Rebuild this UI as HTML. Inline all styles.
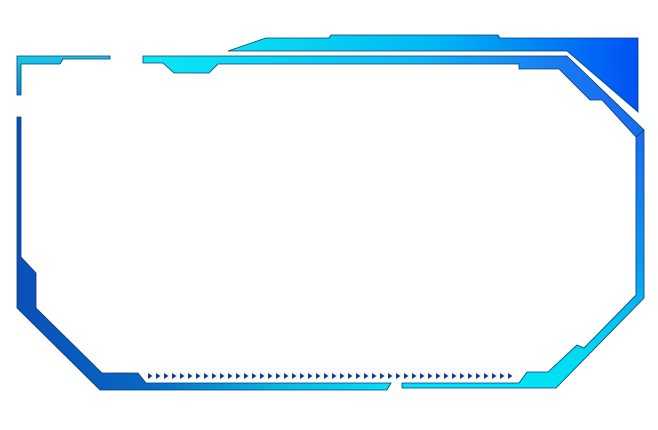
<!DOCTYPE html>
<html><head><meta charset="utf-8"><style>html,body{margin:0;padding:0;background:#fff;width:658px;height:430px;overflow:hidden}</style></head>
<body>
<svg width="658" height="430" viewBox="0 0 658 430" xmlns="http://www.w3.org/2000/svg">
<defs>
<linearGradient id="up" x1="228" y1="0" x2="640" y2="0" gradientUnits="userSpaceOnUse">
<stop offset="0" stop-color="#08e0f4"/><stop offset="0.5" stop-color="#00b8f4"/><stop offset="1" stop-color="#0050f4"/></linearGradient>
<linearGradient id="top" x1="143" y1="0" x2="640" y2="0" gradientUnits="userSpaceOnUse">
<stop offset="0" stop-color="#08e8f4"/><stop offset="0.55" stop-color="#10b8f4"/><stop offset="0.85" stop-color="#1878f0"/><stop offset="1" stop-color="#1a6cf0"/></linearGradient>
<linearGradient id="right" x1="0" y1="130" x2="0" y2="390" gradientUnits="userSpaceOnUse">
<stop offset="0" stop-color="#1a6cf0"/><stop offset="0.5" stop-color="#0a98f0"/><stop offset="0.85" stop-color="#00d8f0"/><stop offset="1" stop-color="#00e4f4"/></linearGradient>
<linearGradient id="left" x1="17" y1="0" x2="391" y2="0" gradientUnits="userSpaceOnUse">
<stop offset="0" stop-color="#0a4fb8"/><stop offset="0.35" stop-color="#0868c4"/><stop offset="0.7" stop-color="#08b8e4"/><stop offset="1" stop-color="#04e0f4"/></linearGradient>
<linearGradient id="lt" x1="0" y1="56" x2="0" y2="95" gradientUnits="userSpaceOnUse">
<stop offset="0" stop-color="#18c8e8"/><stop offset="1" stop-color="#0a8ad0"/></linearGradient>
</defs>
<g stroke="#063a70" stroke-width="0.8" stroke-linejoin="miter">
<polygon fill="url(#up)" points="228,51 266,38 329,38 331,35 498,35 500,38 638,38 638,112 567,51"/>
<polygon fill="url(#lt)" points="17,56 110,56 110,59 63,59 60,64 21,64 21,95 17,95"/>
<polygon fill="url(#top)" points="143,56 567,56 644,130 636,137 602,100 590,100 559,69 519,69 519,64 218,64 209,73 174,73 163,63 143,63"/>
<polygon fill="url(#right)" points="644,130 644,298 556,388 402,388 402,383 519,383 527,372 548,372 577,345 584,348 636,295 636,137"/>
<polygon fill="url(#left)" points="17,117 21,117 21,257 36,273 36,308 102,373 138,373 146,383 391,383 387,390 100,390 17,308"/>
</g>
<g fill="#0a3a8a">
<polygon points="148,373 152.5,376 148,379"/><polygon points="156,373 160.5,376 156,379"/><polygon points="164,373 168.5,376 164,379"/><polygon points="172,373 176.5,376 172,379"/><polygon points="180,373 184.5,376 180,379"/><polygon points="188,373 192.5,376 188,379"/><polygon points="196,373 200.5,376 196,379"/><polygon points="204,373 208.5,376 204,379"/><polygon points="212,373 216.5,376 212,379"/><polygon points="220,373 224.5,376 220,379"/><polygon points="228,373 232.5,376 228,379"/><polygon points="236,373 240.5,376 236,379"/><polygon points="244,373 248.5,376 244,379"/><polygon points="252,373 256.5,376 252,379"/><polygon points="260,373 264.5,376 260,379"/><polygon points="268,373 272.5,376 268,379"/><polygon points="276,373 280.5,376 276,379"/><polygon points="284,373 288.5,376 284,379"/><polygon points="292,373 296.5,376 292,379"/><polygon points="300,373 304.5,376 300,379"/><polygon points="308,373 312.5,376 308,379"/><polygon points="316,373 320.5,376 316,379"/><polygon points="324,373 328.5,376 324,379"/><polygon points="332,373 336.5,376 332,379"/><polygon points="340,373 344.5,376 340,379"/><polygon points="348,373 352.5,376 348,379"/><polygon points="356,373 360.5,376 356,379"/><polygon points="364,373 368.5,376 364,379"/><polygon points="372,373 376.5,376 372,379"/><polygon points="380,373 384.5,376 380,379"/><polygon points="388,373 392.5,376 388,379"/><polygon points="396,373 400.5,376 396,379"/><polygon points="404,373 408.5,376 404,379"/><polygon points="412,373 416.5,376 412,379"/><polygon points="420,373 424.5,376 420,379"/><polygon points="428,373 432.5,376 428,379"/><polygon points="436,373 440.5,376 436,379"/><polygon points="444,373 448.5,376 444,379"/><polygon points="452,373 456.5,376 452,379"/><polygon points="460,373 464.5,376 460,379"/><polygon points="468,373 472.5,376 468,379"/><polygon points="476,373 480.5,376 476,379"/><polygon points="484,373 488.5,376 484,379"/><polygon points="492,373 496.5,376 492,379"/><polygon points="500,373 504.5,376 500,379"/><polygon points="508,373 512.5,376 508,379"/>
</g>
</svg>
</body></html>
